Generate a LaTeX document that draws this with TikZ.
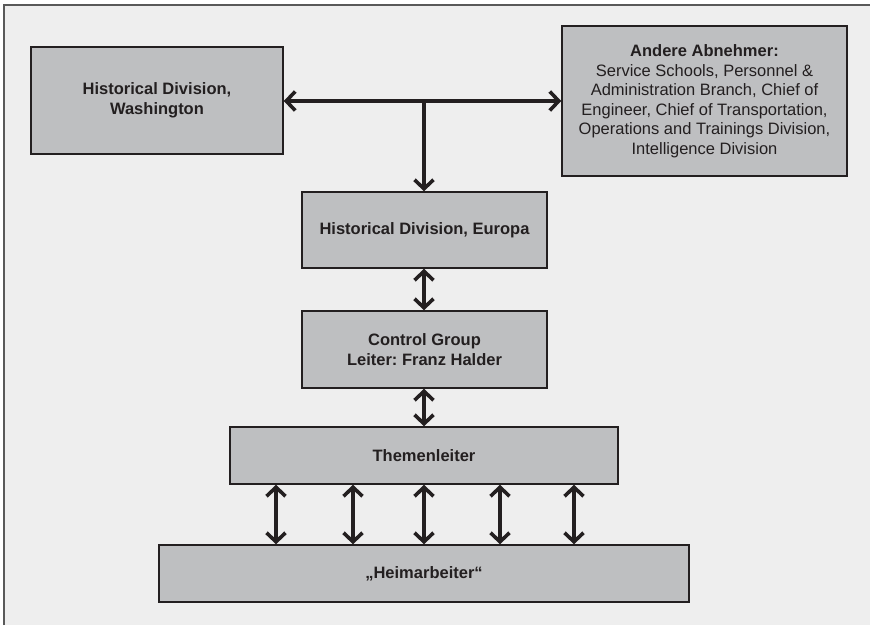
\documentclass[tikz,border=0pt]{standalone}
\usepackage{fontspec}
\setmainfont{Liberation Sans}
\usetikzlibrary{arrows.meta,positioning}
\definecolor{hintergrund}{HTML}{EEEEEE}
\definecolor{kastengrau}{HTML}{BEBFC1}
\definecolor{schrift}{HTML}{231F20}
\frenchspacing
\tikzset {
abteilung/.style={shape=rectangle,draw=schrift,line width=1.5pt,fill=kastengrau,text=schrift,align=center,inner sep=0pt,font=\fontsize{16.5}{19.5}\selectfont\bfseries},
abnehmer/.style={abteilung,font=\fontsize{16.5}{19.5}\selectfont},
spitze/.tip={Straight Barb[length=9pt,width=19pt,line width=3.6pt]},
pfeil/.style={draw=schrift,line width=4pt}
}

\begin{document}
\begin{tikzpicture}
[x=1pt,y=-1pt]
\useasboundingbox (0,0) rectangle (870,625);
\fill[white] (0,0) rectangle (870,625);
\fill[hintergrund] (4,5) rectangle (870,625);
\draw[line width=1.4pt,black!65] (4,625) -- (4,5) -- (870,5);

\node[abteilung,minimum width=252pt,minimum height=107pt] (historical washington) at (157,100.5) {Historical Division,\\Washington};
\node[abnehmer,minimum width=285pt,minimum height=150pt] (andere abnehmer) at (704.5,101) {\textbf{Andere Abnehmer:}\\Service Schools, Personnel \&\\Administration Branch, Chief of\\Engineer, Chief of Transportation,\\Operations and Trainings Division,\\Intelligence Division};
\node[abteilung,minimum width=245pt,minimum height=76pt] (historical europa) at (424.5,230) {Historical Division, Europa};
\node[abteilung,minimum width=245pt,minimum height=77pt] (control group) at (424.5,349.5) {Control Group\\Leiter: Franz Halder};
\node[abteilung,minimum width=388pt,minimum height=57pt] (themenleiter) at (424,455.5) {Themenleiter};
\node[abteilung,minimum width=530pt,minimum height=57pt] (heimarbeiter) at (424,573.5) {„Heimarbeiter“};

\coordinate (verzweigung) at (424,101);
\draw[pfeil,spitze-spitze] (historical washington.east |- verzweigung) -- (andere abnehmer.west |- verzweigung);
\draw[pfeil,-spitze] (verzweigung) -- (verzweigung |- historical europa.north);
\draw[pfeil,spitze-spitze] (historical europa.south -| verzweigung) -- (control group.north -| verzweigung);
\draw[pfeil,spitze-spitze] (control group.south -| verzweigung) -- (themenleiter.north -| verzweigung);
\foreach \x in {276,353,424,500,574}
  \draw[pfeil,spitze-spitze] (\x,0 |- themenleiter.south) -- (\x,0 |- heimarbeiter.north);
\end{tikzpicture}
\end{document}
